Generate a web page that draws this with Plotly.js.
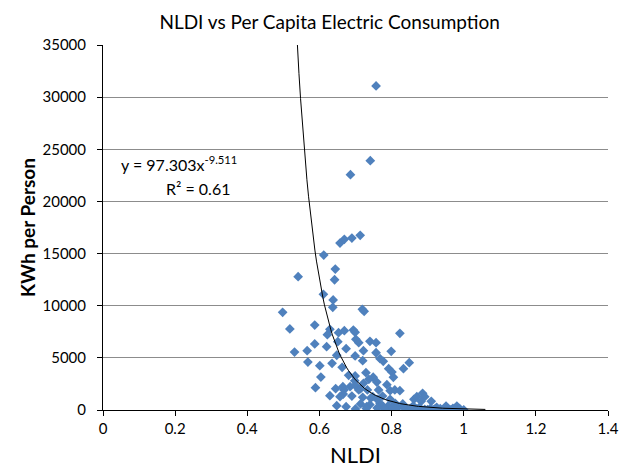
<!DOCTYPE html>
<html>
<head>
<meta charset="utf-8">
<script src="https://cdn.plot.ly/plotly-3.0.1.min.js"></script>
<style>html,body{margin:0;padding:0;background:#fff;}#chart{width:622px;height:473px;}</style>
</head>
<body>
<div id="chart"></div>
<script>
// NLDI values of the countries (x)
const nldi = [
  0.757,0.741,0.686,0.657,0.669,0.690,0.713,0.612,0.644,0.541,
  0.642,0.611,0.638,0.637,0.719,0.724,0.498,0.518,0.587,0.629,
  0.622,0.653,0.669,0.694,0.699,0.651,0.587,0.620,0.531,0.566,
  0.648,0.568,0.601,0.635,0.604,0.589,0.645,0.629,0.648,0.701,
  0.709,0.740,0.757,0.674,0.722,0.799,0.699,0.720,0.768,0.777,
  0.663,0.792,0.801,0.681,0.749,0.805,0.698,0.722,0.759,0.787,
  0.668,0.709,0.733,0.764,0.796,0.666,0.690,0.720,0.748,0.775,
  0.674,0.714,0.740,0.768,0.790,0.810,0.820,0.823,0.833,0.849,
  0.809,0.823,0.796,0.831,0.842,0.862,0.870,0.886,0.892,0.882,
  0.910,0.877,0.892,0.907,0.925,0.932,0.942,0.958,0.951,0.981,
  0.988,0.969,0.757,0.729,0.699,0.737,0.685,0.699,0.714,0.665,
  0.742,0.760,0.731,0.777,0.814,0.833,0.657,0.850,0.870,0.900,
  0.920,0.950,0.970,0.990,1.000,0.860,0.800,0.780,0.760,0.730,
  0.700,0.810,0.855,0.915,0.935,0.965
];
// Per capita electric consumption (y, kWh per person)
const kwh = [
  31070,23910,22560,16010,16370,16490,16750,14860,13520,12780,
  12490,11090,10550,9850,9660,9460,9370,7770,8150,7740,
  7220,7410,7600,7670,7450,6550,6330,6070,5560,5690,
  5250,4600,4250,4480,3160,2140,2040,1370,410,6780,
  6450,6590,6450,5880,5690,5630,5180,4730,4920,4670,
  4090,3960,3640,3330,3140,3140,2810,2560,2680,2430,
  1920,1920,1920,1920,1850,1530,1340,1220,1280,1340,
  320,580,510,640,380,640,320,7350,3960,4540,
  1920,1850,1030,580,120,1030,1280,1600,1280,830,
  830,260,70,120,260,0,0,10,380,380,
  120,20,5490,3580,3260,2940,2230,2370,2040,2230,
  1150,1030,320,320,260,260,1280,50,100,30,
  80,50,150,60,20,400,150,100,200,150,
  100,90,180,40,120,30
];
// Power trendline shown on the chart: y = A * x^B
const fitA = 97.303;
const fitB = -9.511;
const fitXStart = 0.53;
const fitXEnd = 1.06;
const fitSteps = 120;

const xTickVals = [0,0.2,0.4,0.6,0.8,1,1.2,1.4];
const xTickText = ["0","0.2","0.4","0.6","0.8","1","1.2","1.4"];
const yTickVals = [0,5000,10000,15000,20000,25000,30000,35000];
const yTickText = ["0","5000","10000","15000","20000","25000","30000","35000"];

const fitX = [], fitY = [];
for (let i = 0; i <= fitSteps; i++) {
  const x = fitXStart + (fitXEnd - fitXStart) * i / fitSteps;
  fitX.push(x);
  fitY.push(fitA * Math.pow(x, fitB));
}

const FONT = 'Lato, "Open Sans", sans-serif';

const traces = [
  {
    x: nldi, y: kwh, type: 'scatter', mode: 'markers',
    marker: {symbol: 'diamond', size: 7.5, color: '#4F81BD', line: {width: 0}},
    hoverinfo: 'x+y', showlegend: false
  },
  {
    x: fitX, y: fitY, type: 'scatter', mode: 'lines',
    line: {color: '#000000', width: 1},
    hoverinfo: 'skip', showlegend: false
  }
];

const layout = {
  width: 622, height: 473,
  margin: {l: 103, r: 14, t: 45, b: 63, pad: 0},
  paper_bgcolor: '#ffffff', plot_bgcolor: '#ffffff',
  font: {family: FONT, color: '#000000', size: 15},
  title: {
    text: 'NLDI vs Per Capita Electric Consumption',
    font: {family: FONT, size: 19, color: '#000000'},
    x: 0.53, xanchor: 'center', y: 0.953, yanchor: 'middle'
  },
  xaxis: {
    range: [0, 1.4], tickvals: xTickVals, ticktext: xTickText,
    showgrid: false, zeroline: false,
    showline: true, linecolor: '#000000', linewidth: 1,
    ticks: 'outside', ticklen: 5, tickcolor: '#000000',
    tickfont: {family: FONT, size: 15, color: '#000000'},
    title: {text: 'NLDI', font: {family: FONT, size: 22, color: '#000000'}, standoff: 11},
    fixedrange: true
  },
  yaxis: {
    range: [0, 35000], tickvals: yTickVals, ticktext: yTickText,
    showgrid: true, gridcolor: '#8c8c8c', gridwidth: 1,
    zeroline: false,
    showline: true, linecolor: '#000000', linewidth: 1,
    ticks: 'outside', ticklen: 5, tickcolor: '#000000',
    ticklabelstandoff: 8,
    tickfont: {family: FONT, size: 15, color: '#000000'},
    title: {text: '<b>KWh per Person</b>', font: {family: FONT, size: 19, color: '#000000'}, standoff: 1},
    fixedrange: true
  },
  annotations: [
    {
      xref: 'paper', yref: 'paper', x: 0.151, y: 0.675,
      xanchor: 'center', yanchor: 'middle', showarrow: false,
      text: 'y = 97.303x<sup>-9.511</sup>',
      font: {family: FONT, size: 16, color: '#000000'}
    },
    {
      xref: 'paper', yref: 'paper', x: 0.188, y: 0.607,
      xanchor: 'center', yanchor: 'middle', showarrow: false,
      text: 'R² = 0.61',
      font: {family: FONT, size: 16, color: '#000000'}
    }
  ]
};

Plotly.newPlot('chart', traces, layout, {displayModeBar: false, staticPlot: true});
</script>
</body>
</html>
